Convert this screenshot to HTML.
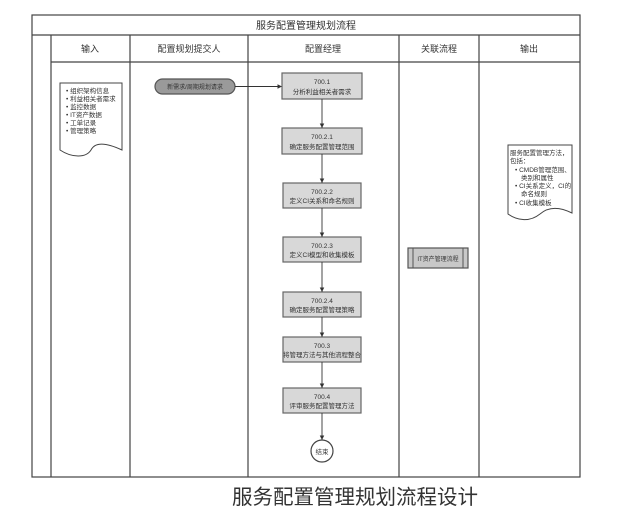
<!DOCTYPE html>
<html><head><meta charset="utf-8"><style>
html,body{margin:0;padding:0;background:#fff;}
svg{display:block;}
text{font-family:"Liberation Sans","Noto Sans CJK SC",sans-serif;fill:#333;}
</style></head><body>
<svg width="638" height="523" viewBox="0 0 638 523" xmlns="http://www.w3.org/2000/svg">
<defs>
<marker id="ah" markerWidth="6" markerHeight="6" refX="5" refY="3" orient="auto"><path d="M0,0.5 L5,3 L0,5.5 z" fill="#333"/></marker>
</defs>
<g stroke="#444" stroke-width="1.2" fill="none">
<rect x="32" y="15" width="548" height="462"/>
<line x1="32" y1="35" x2="580" y2="35"/>
<line x1="51" y1="62" x2="580" y2="62"/>
<line x1="51" y1="35" x2="51" y2="477"/>
<line x1="130" y1="35" x2="130" y2="477"/>
<line x1="248" y1="35" x2="248" y2="477"/>
<line x1="399" y1="35" x2="399" y2="477"/>
<line x1="479" y1="35" x2="479" y2="477"/>
</g>
<g font-size="9" text-anchor="middle">
<text x="306" y="29" font-size="10">服务配置管理规划流程</text>
<text x="90" y="52">输入</text>
<text x="189" y="52">配置规划提交人</text>
<text x="323" y="52">配置经理</text>
<text x="439" y="52">关联流程</text>
<text x="529" y="52">输出</text>
</g>
<!-- input doc -->
<path d="M60,83 H122 V150 C105,142 95,142 91,150 C86,158 72,158 60,150 Z" fill="#fff" stroke="#444" stroke-width="1"/>
<g font-size="6.5"><text x="66" y="93">• 组织架构信息</text><text x="66" y="101">• 利益相关者需求</text><text x="66" y="109">• 监控数据</text><text x="66" y="117">• IT资产数据</text><text x="66" y="125">• 工单记录</text><text x="66" y="133">• 管理策略</text></g>
<!-- pill -->
<rect x="155" y="79" width="80" height="15" rx="7.5" fill="#9a9a9a" stroke="#555" stroke-width="1.2"/>
<text x="195" y="89" font-size="6" text-anchor="middle" fill="#777">新需求/周期规划请求</text>
<line x1="235" y1="86.5" x2="282" y2="86.5" stroke="#333" stroke-width="0.9" marker-end="url(#ah)"/>
<!-- boxes -->
<g stroke="#666" stroke-width="1.2" fill="#d8d8d8">
<rect x="282" y="73" width="80" height="26"/>
<rect x="282" y="128" width="80" height="26"/>
<rect x="283" y="183" width="78" height="25"/>
<rect x="283" y="237" width="78" height="25"/>
<rect x="283" y="292" width="78" height="25"/>
<rect x="283" y="337" width="78" height="25"/>
<rect x="283" y="388" width="78" height="25"/>
</g>
<g stroke="#333" stroke-width="0.9" marker-end="url(#ah)">
<line x1="322" y1="99" x2="322" y2="128"/>
<line x1="322" y1="154" x2="322" y2="183"/>
<line x1="322" y1="208" x2="322" y2="237"/>
<line x1="322" y1="262" x2="322" y2="292"/>
<line x1="322" y1="317" x2="322" y2="337"/>
<line x1="322" y1="362" x2="322" y2="388"/>
<line x1="322" y1="413" x2="322" y2="440"/>
</g>
<g font-size="6.5" text-anchor="middle">
<text x="322" y="84">700.1</text><text x="322" y="94">分析利益相关者需求</text>
<text x="322" y="139">700.2.1</text><text x="322" y="149">确定服务配置管理范围</text>
<text x="322" y="194">700.2.2</text><text x="322" y="203">定义CI关系和命名规则</text>
<text x="322" y="248">700.2.3</text><text x="322" y="257">定义CI模型和收集模板</text>
<text x="322" y="303">700.2.4</text><text x="322" y="312">确定服务配置管理策略</text>
<text x="322" y="348">700.3</text><text x="322" y="357">将管理方法与其他流程整合</text>
<text x="322" y="399">700.4</text><text x="322" y="408">评审服务配置管理方法</text>
</g>
<circle cx="322" cy="451" r="11" fill="#fff" stroke="#444" stroke-width="1.2"/>
<text x="322" y="454" font-size="6.5" text-anchor="middle">结束</text>
<!-- IT box -->
<rect x="408" y="248" width="60" height="20" fill="#c8c8c8" stroke="#555" stroke-width="1.2"/>
<line x1="413" y1="248" x2="413" y2="268" stroke="#555"/>
<line x1="463" y1="248" x2="463" y2="268" stroke="#555"/>
<text x="438" y="261" font-size="6" text-anchor="middle" fill="#666">IT资产管理流程</text>
<!-- output doc -->
<path d="M508,145 H572 V213 C558,206 548,207 540,214 C530,222 518,221 508,214 Z" fill="#fff" stroke="#444" stroke-width="1"/>
<g font-size="6.5"><text x="510" y="155">服务配置管理方法，</text><text x="510" y="163">包括：</text>
<text x="515" y="172">• CMDB管理范围、</text><text x="521" y="180">类别和属性</text>
<text x="515" y="188">• CI关系定义，CI的</text><text x="521" y="196">命名规则</text>
<text x="515" y="205">• CI收集模板</text></g>
<text x="355" y="504" font-size="20.5" text-anchor="middle" fill="#222" style="font-family:'Noto Sans CJK SC',sans-serif">服务配置管理规划流程设计</text>
</svg>
</body></html>
